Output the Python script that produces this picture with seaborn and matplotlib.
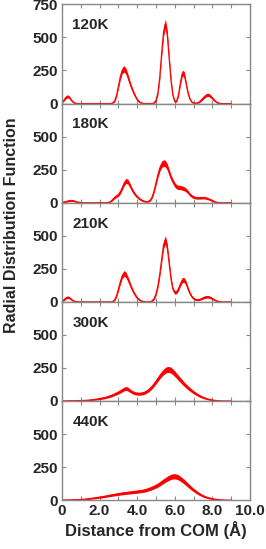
import numpy as np
import pandas as pd
import matplotlib
matplotlib.use('Agg')
import matplotlib.pyplot as plt
import seaborn as sns

# distance grid (Angstrom), 0.1 step
distance = [
    0.0, 0.1, 0.2, 0.3, 0.4, 0.5, 0.6, 0.7, 0.8, 0.9,
    1.0, 1.1, 1.2, 1.3, 1.4, 1.5, 1.6, 1.7, 1.8, 1.9,
    2.0, 2.1, 2.2, 2.3, 2.4, 2.5, 2.6, 2.7, 2.8, 2.9,
    3.0, 3.1, 3.2, 3.3, 3.4, 3.5, 3.6, 3.7, 3.8, 3.9,
    4.0, 4.1, 4.2, 4.3, 4.4, 4.5, 4.6, 4.7, 4.8, 4.9,
    5.0, 5.1, 5.2, 5.3, 5.4, 5.5, 5.6, 5.7, 5.8, 5.9,
    6.0, 6.1, 6.2, 6.3, 6.4, 6.5, 6.6, 6.7, 6.8, 6.9,
    7.0, 7.1, 7.2, 7.3, 7.4, 7.5, 7.6, 7.7, 7.8, 7.9,
    8.0, 8.1, 8.2, 8.3, 8.4, 8.5, 8.6, 8.7, 8.8, 8.9,
    9.0,
]

rdf_120k = [
    10, 25, 45, 55, 45, 25, 10, 3, 0, 0,
    0, 0, 0, 0, 0, 0, 0, 0, 0, 0,
    0, 0, 0, 0, 0, 0, 0, 5, 20, 60,
    130, 200, 250, 262, 245, 205, 160, 120, 85, 55,
    30, 15, 6, 2, 0, 0, 0, 0, 0, 5,
    25, 80, 200, 380, 540, 605, 520, 340, 170, 60,
    15, 20, 70, 160, 230, 222, 150, 80, 35, 12,
    5, 3, 5, 12, 25, 40, 55, 65, 65, 55,
    40, 25, 12, 5, 1, 0, 0, 0, 0, 0,
    0,
]

rdf_180k = [
    2, 5, 8, 12, 15, 17, 15, 10, 6, 3,
    1, 0, 0, 0, 0, 0, 0, 0, 0, 0,
    0, 0, 0, 0, 0, 3, 10, 25, 40, 50,
    60, 80, 110, 145, 165, 160, 135, 105, 80, 60,
    45, 32, 22, 15, 10, 8, 10, 20, 45, 90,
    150, 210, 260, 290, 300, 295, 270, 230, 190, 160,
    135, 120, 115, 115, 110, 105, 95, 80, 62, 50,
    42, 38, 36, 36, 37, 38, 37, 33, 28, 22,
    15, 9, 4, 2, 0, 0, 0, 0, 0, 0,
    0,
]

rdf_210k = [
    5, 15, 28, 35, 30, 18, 8, 3, 1, 0,
    0, 0, 0, 0, 0, 0, 0, 0, 0, 0,
    0, 0, 0, 0, 0, 0, 0, 3, 15, 45,
    95, 150, 195, 215, 205, 175, 140, 105, 75, 50,
    30, 17, 8, 3, 1, 0, 0, 2, 8, 25,
    60, 120, 210, 320, 430, 470, 410, 290, 170, 95,
    70, 75, 100, 135, 165, 165, 140, 100, 65, 40,
    25, 18, 15, 17, 22, 30, 35, 38, 37, 32,
    24, 15, 8, 4, 1, 0, 0, 0, 0, 0,
    0,
]

rdf_300k = [
    1, 1, 1, 1, 2, 2, 2, 2, 3, 3,
    3, 4, 4, 5, 6, 8, 9, 11, 13, 15,
    18, 20, 23, 26, 30, 35, 40, 45, 52, 58,
    65, 73, 82, 90, 95, 90, 80, 70, 63, 58,
    56, 55, 56, 59, 64, 72, 82, 95, 110, 128,
    147, 167, 187, 205, 220, 232, 238, 238, 232, 220,
    205, 190, 173, 157, 142, 127, 113, 100, 88, 77,
    66, 57, 48, 40, 33, 27, 22, 17, 13, 10,
    7, 5, 3, 2, 1, 1, 0, 0, 0, 0,
    0,
]

rdf_440k = [
    1, 1, 1, 2, 2, 2, 3, 3, 4, 4,
    5, 6, 7, 9, 10, 12, 14, 16, 18, 20,
    22, 24, 27, 29, 32, 35, 37, 40, 42, 45,
    47, 49, 51, 53, 55, 57, 58, 60, 62, 63,
    65, 67, 69, 71, 74, 78, 83, 88, 94, 100,
    107, 115, 124, 134, 144, 153, 162, 170, 176, 180,
    180, 177, 171, 162, 151, 139, 126, 113, 100, 88,
    77, 66, 56, 47, 39, 32, 26, 21, 17, 13,
    10, 8, 6, 4, 3, 2, 1, 1, 0, 0,
    0,
]

temps = ['120K', '180K', '210K', '300K', '440K']
series = [rdf_120k, rdf_180k, rdf_210k, rdf_300k, rdf_440k]

sns.set_style('ticks')
plt.rcParams['font.family'] = ['Liberation Sans', 'DejaVu Sans']
plt.rcParams['font.weight'] = 'bold'

fig, axes = plt.subplots(5, 1, figsize=(2.66, 5.49), dpi=100, sharex=True)
fig.subplots_adjust(left=0.233, right=0.94, top=0.992, bottom=0.089, hspace=0)

for i, (ax, label, vals) in enumerate(zip(axes, temps, series)):
    df = pd.DataFrame({'r': distance, 'g': vals})
    # noisy band drawn around the curve
    half = 1.4 * np.sqrt(df['g']) + 1
    ax.fill_between(df['r'], df['g'] - half, df['g'] + half,
                    color='red', lw=0, zorder=1)
    sns.lineplot(data=df, x='r', y='g', ax=ax, color='red', lw=0.9,
                 zorder=1.5)
    ax.set_xlim(0, 10)
    ax.set_ylim(0, 750)
    ax.set_xlabel('')
    ax.set_ylabel('')
    ax.set_yticks([0, 250, 500, 750])
    if i > 0:
        ax.set_yticklabels(['0', '250', '500', ''])
    ax.set_xticks([0, 2, 4, 6, 8, 10])
    ax.set_xticks([1, 3, 5, 7, 9], minor=True)
    ax.tick_params(which='both', direction='in', top=True, right=True,
                   length=3, width=0.8, color='#888888', labelsize=11,
                   pad=3)
    for s in ax.spines.values():
        s.set_color('#888888')
        s.set_linewidth(1.0)
        s.set_zorder(3)
    ax.text(0.055, 0.79, label, transform=ax.transAxes, fontsize=11,
            fontweight='bold', va='center', ha='left')
    for t in ax.get_yticklabels():
        t.set_fontweight('bold')

axes[-1].set_xticklabels(['0', '2.0', '4.0', '6.0', '8.0', '10.0'],
                         fontweight='bold')
axes[-1].set_xlabel('Distance from COM (\u00c5)', fontsize=12,
                    fontweight='bold', labelpad=2)
fig.text(0.042, 0.589, 'Radial Distribution Function', rotation=90,
         fontsize=11.5, fontweight='bold', va='center', ha='center')

fig.savefig('out.png', dpi=100)
